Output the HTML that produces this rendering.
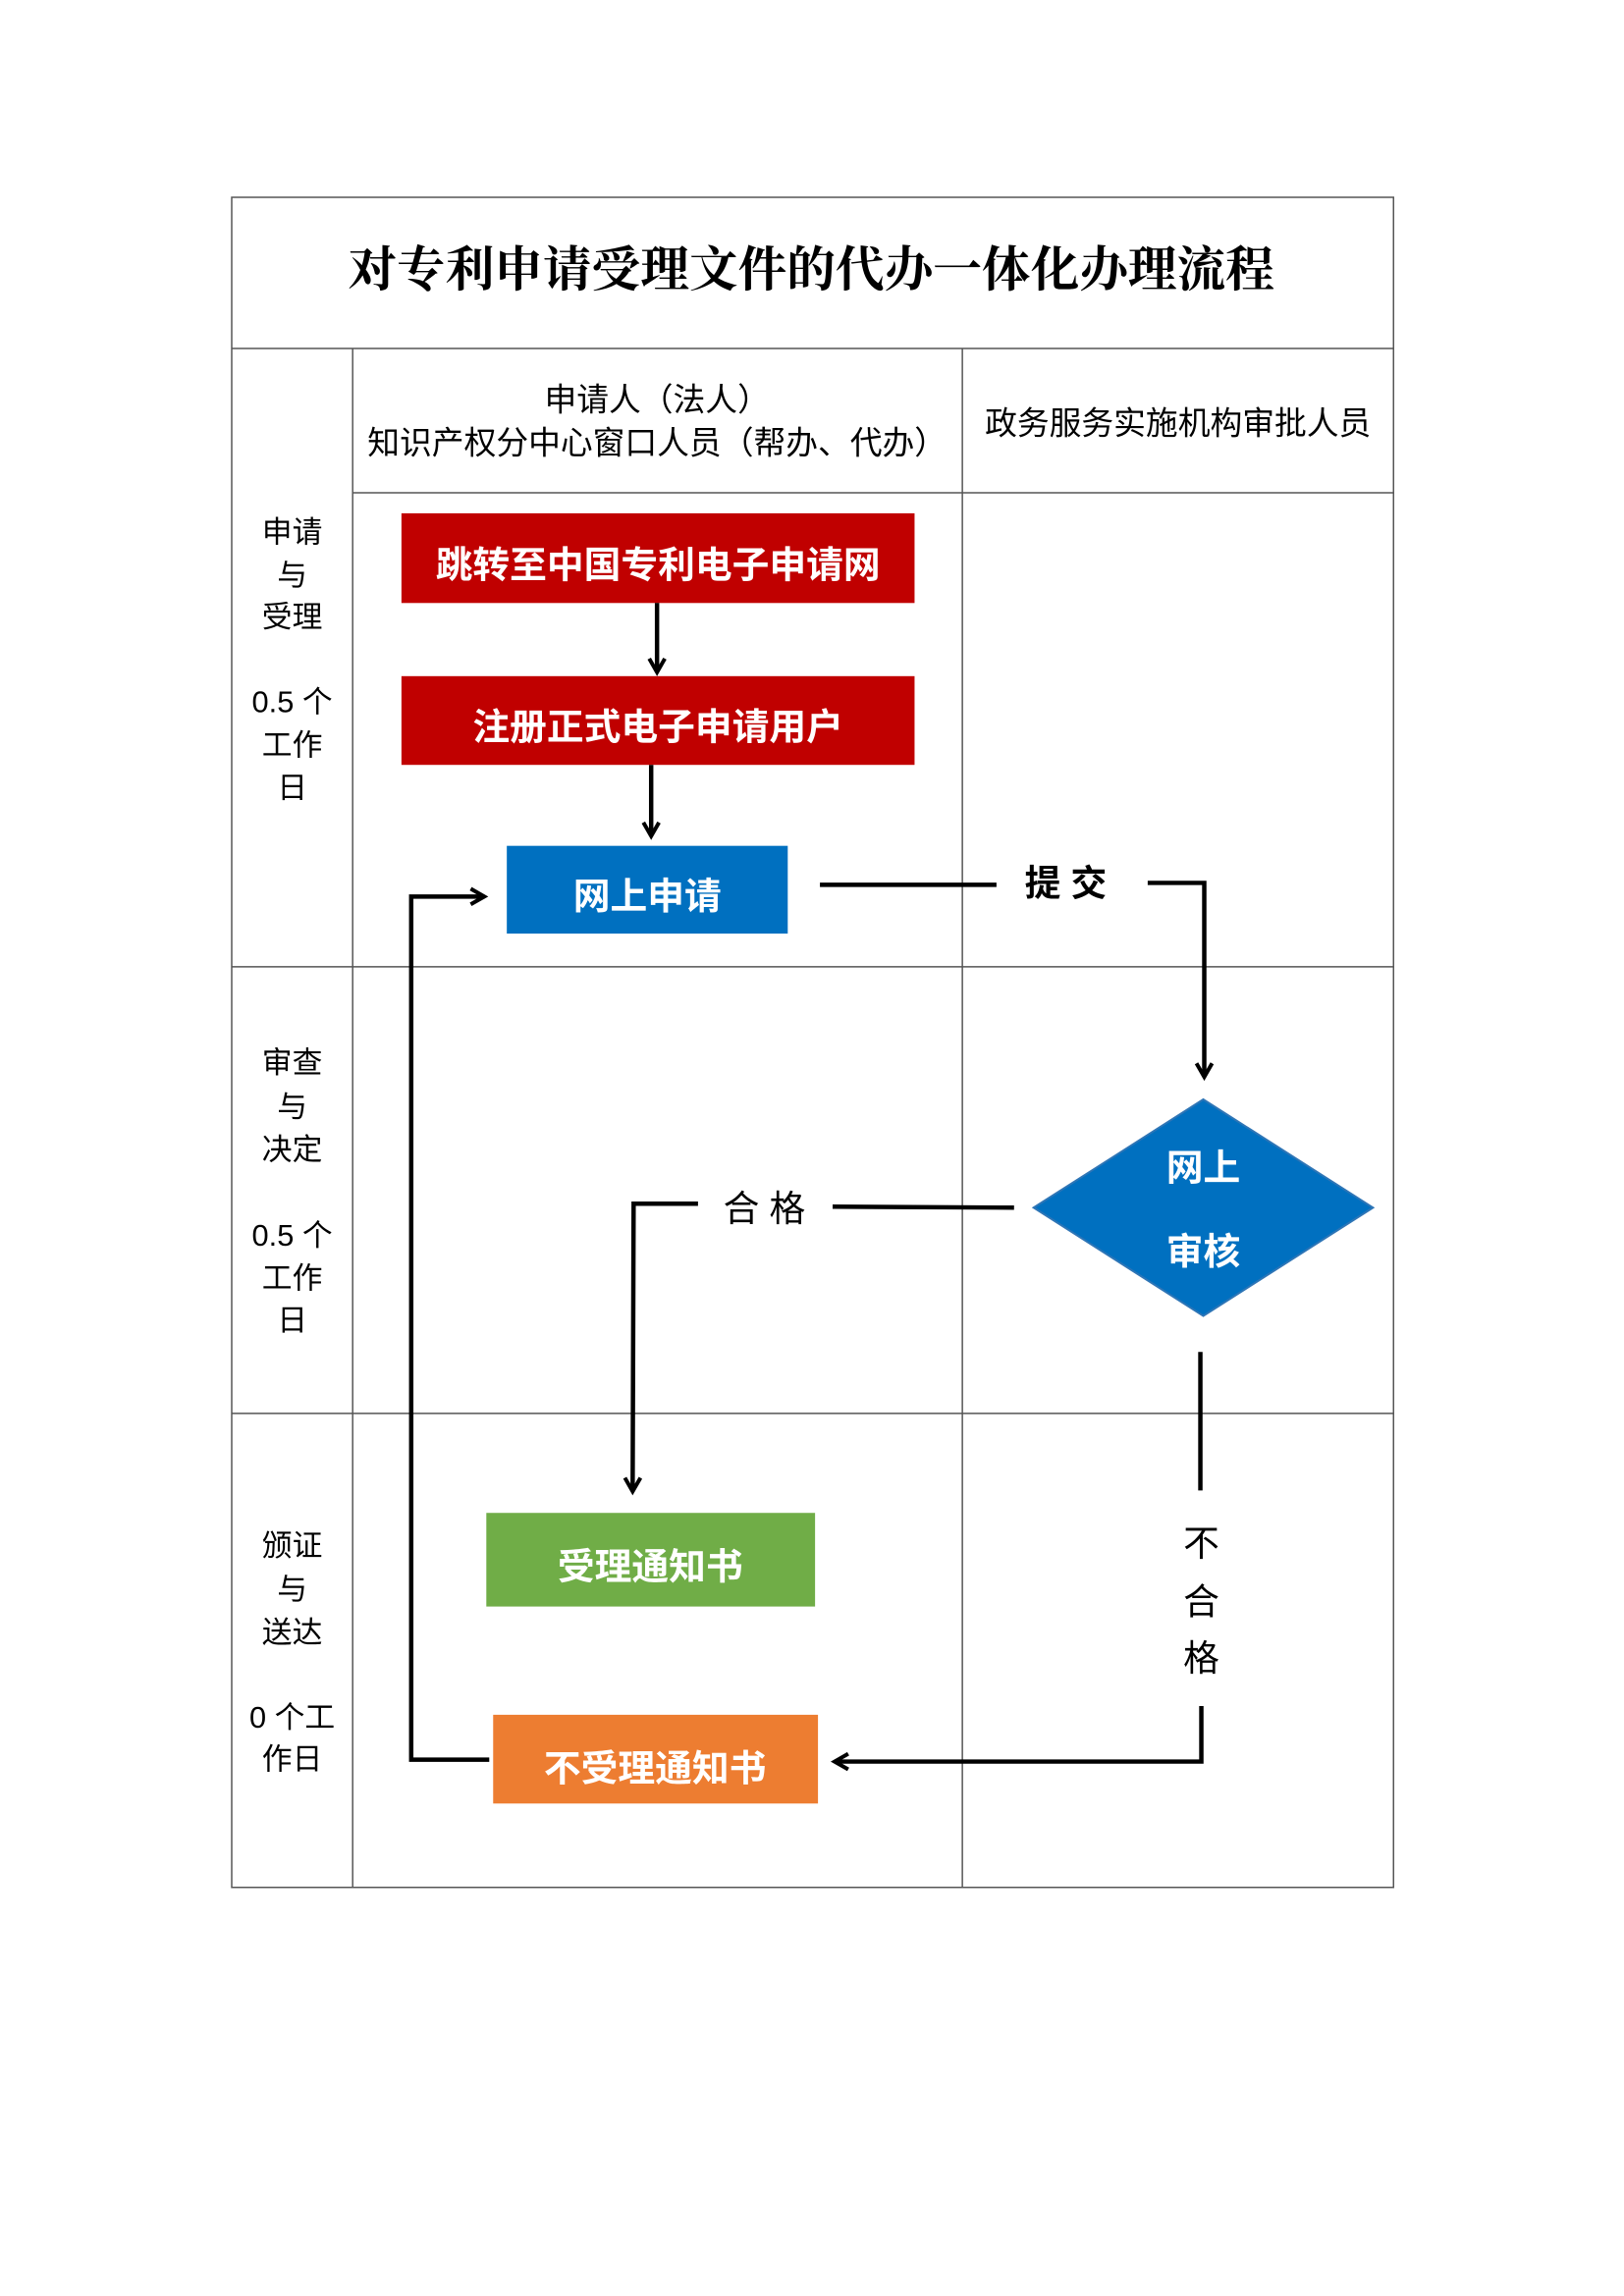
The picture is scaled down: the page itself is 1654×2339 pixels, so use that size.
<!DOCTYPE html>
<html><head><meta charset="utf-8"><style>
html,body{margin:0;padding:0;background:#fff;}
svg{display:block;}
text{font-family:"Liberation Sans","Noto Sans CJK SC",sans-serif;}
</style></head><body>
<svg width="1654" height="2339" viewBox="0 0 1654 2339" xmlns="http://www.w3.org/2000/svg">
<defs>
<marker id="ar" markerWidth="22" markerHeight="22" refX="17" refY="11" orient="auto" markerUnits="userSpaceOnUse">
<path d="M3,3 L17,11 L3,19" fill="none" stroke="#000" stroke-width="4"/>
</marker>
</defs>
<g transform="translate(236,201) scale(0.9935) translate(-236,-201)">
<g stroke="#555" stroke-width="1.5" fill="none">
<rect x="236" y="201" width="1191" height="1733"/>
<line x1="236" y1="356" x2="1427" y2="356"/>
<line x1="360" y1="356" x2="360" y2="1934"/>
<line x1="985" y1="356" x2="985" y2="1934"/>
<line x1="360" y1="504" x2="1427" y2="504"/>
<line x1="236" y1="990" x2="1427" y2="990"/>
<line x1="236" y1="1448" x2="1427" y2="1448"/>
</g>
<text x="830" y="292" font-size="50" font-weight="bold" text-anchor="middle" style="font-family:'Liberation Serif','Noto Serif CJK SC',serif">对专利申请受理文件的代办一体化办理流程</text>
<g font-size="33" text-anchor="middle" fill="#000">
<text x="672" y="420">申请人（法人）</text>
<text x="672" y="464">知识产权分中心窗口人员（帮办、代办）</text>
<text x="1206" y="444">政务服务实施机构审批人员</text>
</g>
<g font-size="31" text-anchor="middle" fill="#000">
<text x="298" y="555">申请</text><text x="298" y="599">与</text><text x="298" y="642">受理</text>
<text x="298" y="729">0.5 个</text><text x="298" y="773">工作</text><text x="298" y="817">日</text>
<text x="298" y="1099">审查</text><text x="298" y="1144">与</text><text x="298" y="1188">决定</text>
<text x="298" y="1276">0.5 个</text><text x="298" y="1320">工作</text><text x="298" y="1363">日</text>
<text x="298" y="1594">颁证</text><text x="298" y="1639">与</text><text x="298" y="1683">送达</text>
<text x="298" y="1770">0 个工</text><text x="298" y="1813">作日</text>
</g>
<rect x="410" y="525" width="526" height="92" fill="#C00000"/>
<rect x="410" y="692" width="526" height="91" fill="#C00000"/>
<rect x="518" y="866" width="288" height="90" fill="#0070C0"/>
<rect x="497" y="1550" width="337" height="96" fill="#70AD47"/>
<rect x="504" y="1757" width="333" height="91" fill="#ED7D31"/>
<polygon points="1232,1126 1406,1237 1232,1348 1058,1237" fill="#0070C0" stroke="#2E75B6" stroke-width="2"/>
<g font-size="38" font-weight="bold" fill="#fff" text-anchor="middle">
<text x="673" y="591">跳转至中国专利电子申请网</text>
<text x="673" y="757">注册正式电子申请用户</text>
<text x="662" y="931">网上申请</text>
<text x="665" y="1618">受理通知书</text>
<text x="670" y="1825">不受理通知书</text>
<text x="1232" y="1209">网上</text>
<text x="1232" y="1295">审核</text>
</g>
<g stroke="#000" stroke-width="4.5" fill="none">
<line x1="672" y1="617" x2="672" y2="688" marker-end="url(#ar)"/>
<line x1="666" y1="783" x2="666" y2="856" marker-end="url(#ar)"/>
<line x1="839" y1="906" x2="1020" y2="906"/>
<polyline points="1175,904 1233,904 1233,1103" marker-end="url(#ar)"/>
<line x1="1038" y1="1237" x2="852" y2="1236"/>
<polyline points="714,1233 648,1233 647,1528" marker-end="url(#ar)"/>
<line x1="1229" y1="1385" x2="1229" y2="1527"/>
<polyline points="1230,1748 1230,1805 854,1805" marker-end="url(#ar)"/>
<polyline points="500,1803 420,1803 420,918 495,918" marker-end="url(#ar)"/>
</g>
<g font-size="37" fill="#000" text-anchor="middle">
<text x="1091" y="917" font-weight="bold">提 交</text>
<text x="782" y="1251">合 格</text>
<text x="1230" y="1594">不</text>
<text x="1230" y="1654">合</text>
<text x="1230" y="1712">格</text>
</g>
</g>
</svg>
</body></html>
